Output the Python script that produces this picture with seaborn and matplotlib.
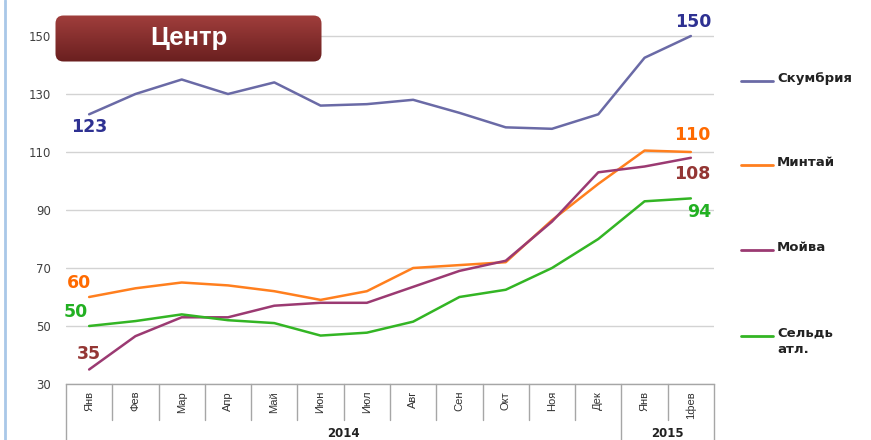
"""
Центр: цены на рыбу, 2014 - 1 фев 2015
"""

import numpy as np
import pandas as pd
import matplotlib.pyplot as plt
import seaborn as sns
from matplotlib.lines import Line2D
from matplotlib.patches import FancyBboxPatch
from matplotlib.colors import LinearSegmentedColormap


# Data
months = ['Янв', 'Фев', 'Мар', 'Апр', 'Май', 'Июн', 'Июл',
          'Авг', 'Сен', 'Окт', 'Ноя', 'Дек', 'Янв', '1фев']
years = ['2014', '2015']
year_first = [0, 12]
year_last = [11, 13]

series_names = ['Скумбрия', 'Минтай', 'Мойва', 'Сельдь\nатл.']
skumbria = [123, 130, 135, 130, 134, 126, 126.5, 128, 123.5, 118.5, 118, 123, 142.5, 150]
mintai = [60, 63, 65, 64, 62, 59, 62, 70, 71, 72, 86.5, 99, 110.5, 110]
moiva = [35, 46.5, 53, 53, 57, 58, 58, 63.5, 69, 72.5, 86, 103, 105, 108]
seld = [50, 51.7, 54, 52, 51, 46.7, 47.7, 51.5, 60, 62.5, 70, 80, 93, 94]

line_colors = ['#6A6AA6', '#FF7F1E', '#9B3A72', '#33B524']
label_colors = ['#2E3192', '#FF6A00', '#943634', '#22B022']
y_ticks = [30, 50, 70, 90, 110, 130, 150]


def build_frame():
    # long format table for seaborn
    rows = []
    for name, vals in zip(series_names, [skumbria, mintai, moiva, seld]):
        for i, v in enumerate(vals):
            rows.append({'pos': i, 'price': v, 'fish': name})
    return pd.DataFrame(rows)


def main():
    sns.set_theme(style='white')
    plt.rcParams['font.family'] = ['DejaVu Sans']

    df = build_frame()

    fig = plt.figure(figsize=(8.71, 4.4), dpi=100)
    ax = fig.add_axes([66 / 871, 56 / 440, 648 / 871, 377 / 440])

    sns.lineplot(data=df, x='pos', y='price', hue='fish', palette=line_colors,
                 hue_order=series_names, linewidth=1.8, legend=False, ax=ax)

    ax.set_xlim(-0.5, len(months) - 0.5)
    ax.set_ylim(30, 160)
    ax.set_xlabel('')
    ax.set_ylabel('')

    # grid
    ax.set_yticks(y_ticks)
    ax.yaxis.grid(True, color='#D3D3D3', linewidth=1)
    ax.xaxis.grid(False)
    ax.tick_params(axis='y', length=0, pad=11, labelsize=8.5, labelcolor='#404040')

    for s in ['left', 'right', 'top']:
        ax.spines[s].set_visible(False)
    ax.spines['bottom'].set_color('#A6A6A6')
    ax.spines['bottom'].set_linewidth(1)

    # x tick labels
    ax.set_xticks(range(len(months)))
    ax.set_xticklabels(months, rotation=90, fontsize=8,
                       family=['Liberation Sans Narrow', 'Liberation Sans', 'DejaVu Sans'],
                       color='#333333')
    ax.tick_params(axis='x', length=0, pad=5)

    # category box below the axis
    trans = ax.get_xaxis_transform()
    full_cuts = [-0.5] + [l + 0.5 for l in year_last]
    for k in range(len(months) + 1):
        xc = k - 0.5
        y_end = -0.149 if xc in full_cuts else -0.0955
        ax.add_line(Line2D([xc, xc], [0, y_end], transform=trans, color='#A6A6A6',
                           linewidth=1, clip_on=False))
    for yr, a, b in zip(years, year_first, year_last):
        ax.text((a + b) / 2, -0.132, yr, transform=trans, ha='center', va='center',
                fontsize=8.5, fontweight='bold', color='#222222')

    # value labels at the ends of the lines
    data = [skumbria, mintai, moiva, seld]
    first_off = [(0, -13), (-10, 14), (0, 16), (-13, 14)]
    last_off = [(2, 14), (1, 17), (1, -16), (8, -14)]
    for vals, col, fo, lo in zip(data, label_colors, first_off, last_off):
        ax.annotate(f'{vals[0]:g}', (0, vals[0]), xytext=fo, textcoords='offset pixels',
                    ha='center', va='center', fontsize=12.5, fontweight='bold', color=col,
                    annotation_clip=False)
        ax.annotate(f'{vals[-1]:g}', (len(vals) - 1, vals[-1]), xytext=lo,
                    textcoords='offset pixels', ha='center', va='center', fontsize=12.5,
                    fontweight='bold', color=col, annotation_clip=False)

    # legend on the right
    leg_y = [81, 165, 250, 336]
    for name, col, yy in zip(series_names, line_colors, leg_y):
        yf = 1 - yy / 440
        fig.add_artist(Line2D([741 / 871, 773 / 871], [yf, yf], color=col, linewidth=2))
        fig.text(777 / 871, yf + 9 / 440, name, va='top', ha='left', fontsize=9.5,
                 fontweight='bold', color='#222222', linespacing=1.3)

    # slide border on the left
    fig.add_artist(Line2D([5 / 871, 5 / 871], [0, 1], color='#A9C8E8', linewidth=2))

    # title box with gradient
    box_ax = fig.add_axes([55 / 871, 1 - 62 / 440, 267 / 871, 47 / 440])
    box_ax.set_xlim(0, 267)
    box_ax.set_ylim(0, 47)
    box_ax.axis('off')
    grad = np.linspace(0, 1, 60).reshape(-1, 1)
    cmap = LinearSegmentedColormap.from_list('title', ['#A03E3C', '#6A1F1F'])
    im = box_ax.imshow(grad, cmap=cmap, aspect='auto', extent=[0, 267, 0, 47], origin='upper')
    patch = FancyBboxPatch((0.5, 0.5), 266, 46, boxstyle='round,pad=0,rounding_size=8',
                           facecolor='none', edgecolor='none')
    box_ax.add_patch(patch)
    im.set_clip_path(patch)
    box_ax.text(133.5, 24, 'Центр', color='white', fontsize=18.5, fontweight='bold',
                ha='center', va='center', family=['Liberation Sans', 'DejaVu Sans'])

    fig.savefig('out.png', dpi=100)
    plt.close(fig)


if __name__ == "__main__":
    main()
